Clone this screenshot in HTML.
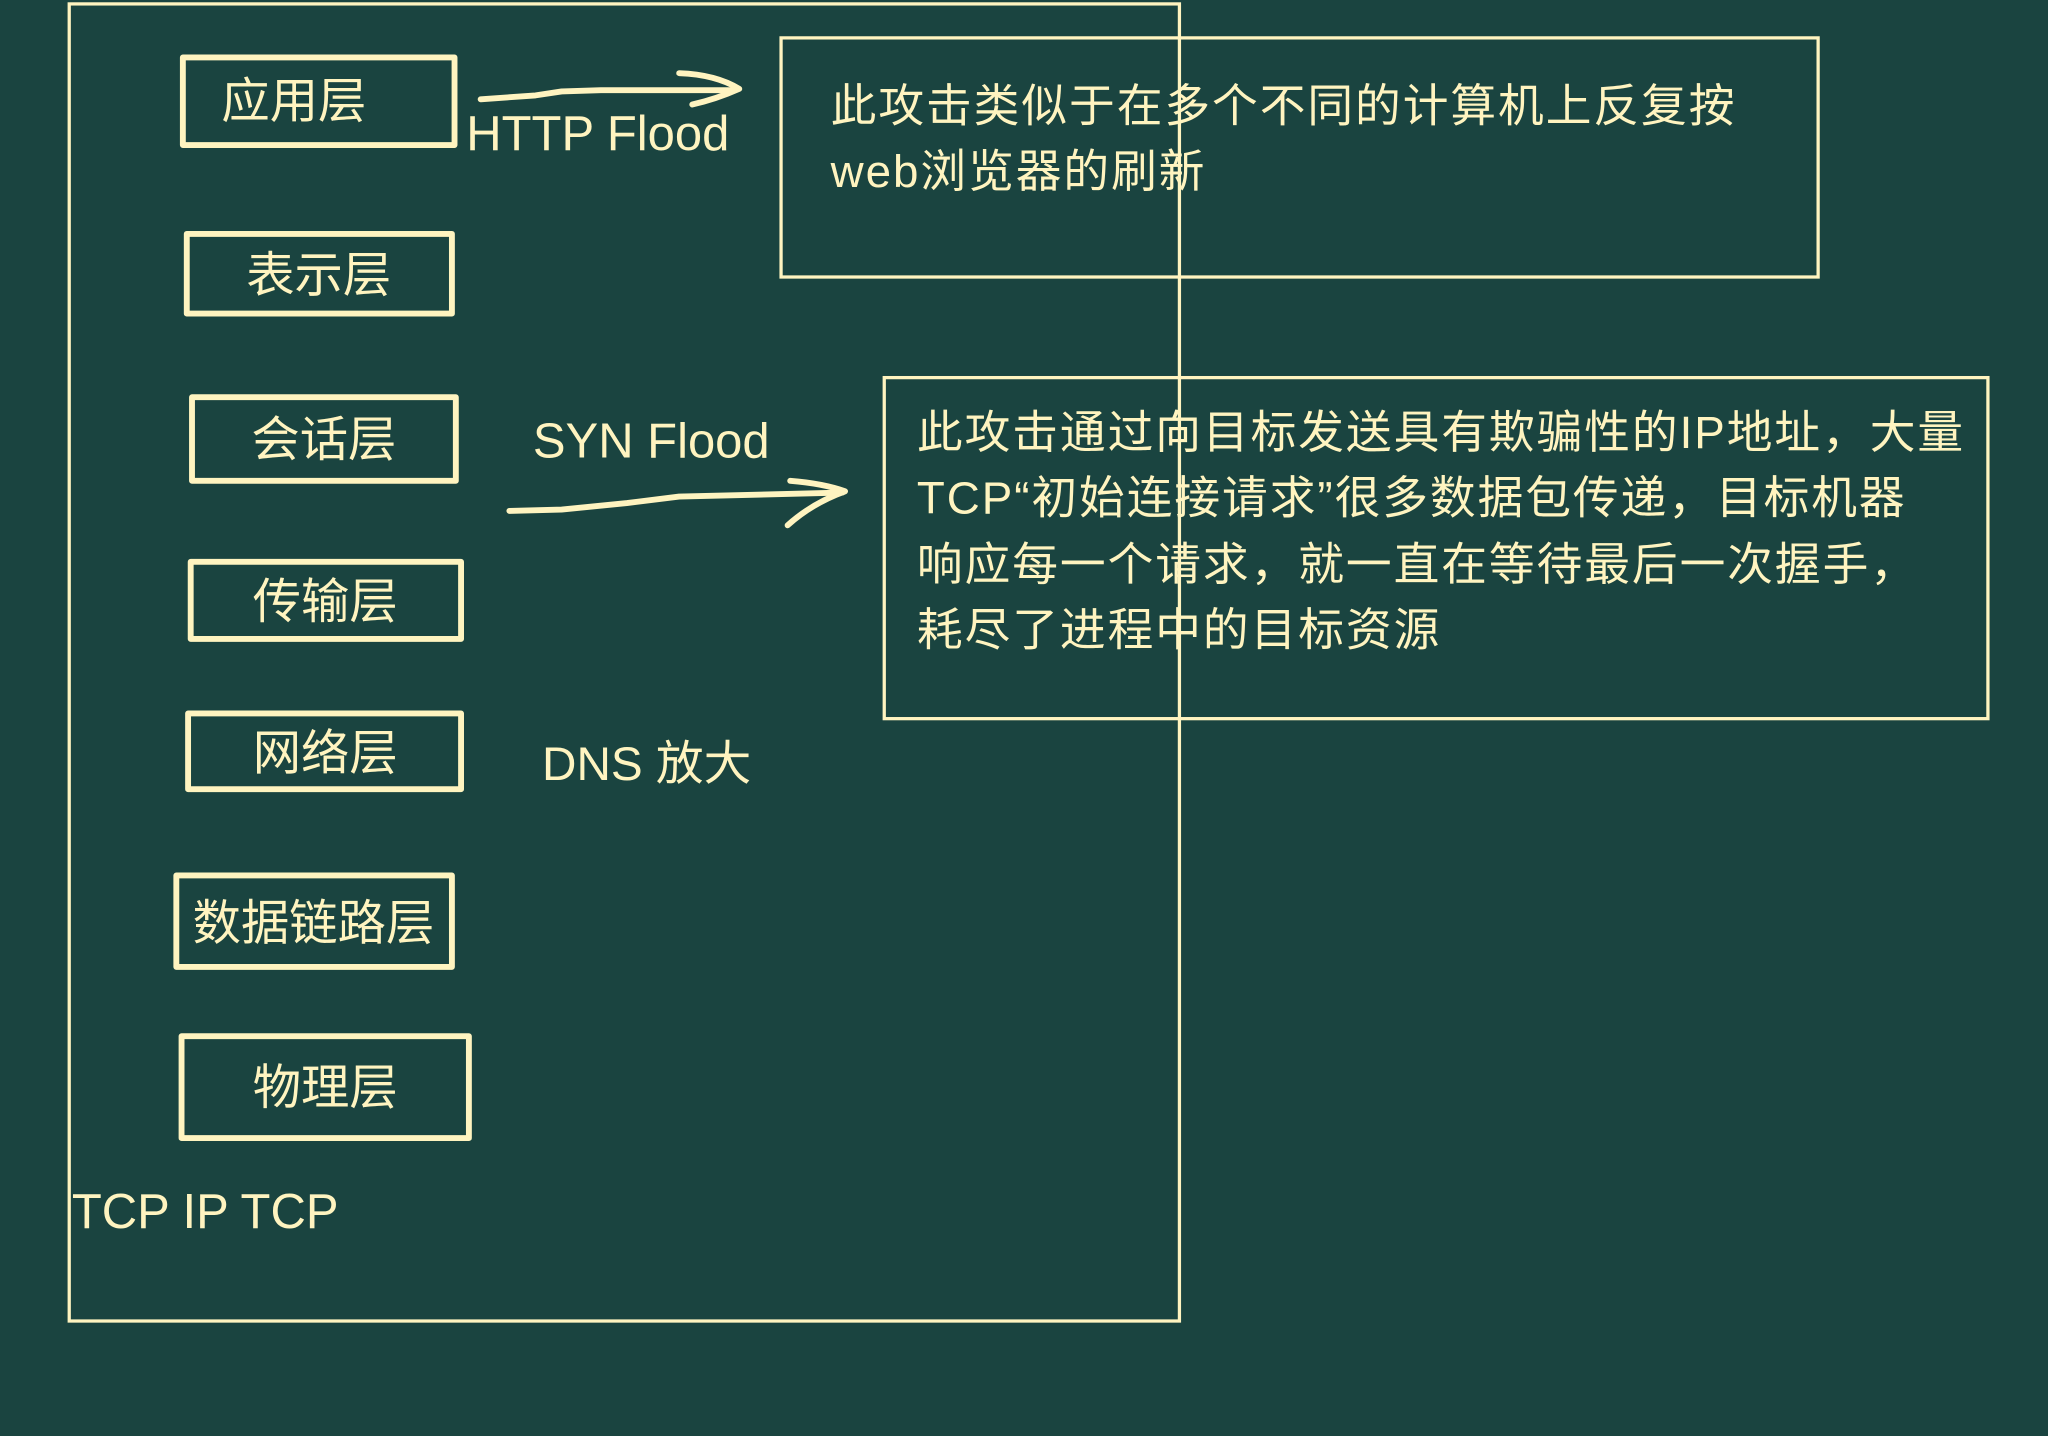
<!DOCTYPE html>
<html><head><meta charset="utf-8"><style>
html,body{margin:0;padding:0;background:#1a4440;}
svg{display:block;}
text{font-family:"Liberation Sans","Noto Sans CJK SC",sans-serif;fill:#fff4c0;}
</style></head><body>
<svg width="2048" height="1436" viewBox="0 0 1568 1099" preserveAspectRatio="none" xmlns="http://www.w3.org/2000/svg">
<rect width="1568" height="1099" fill="#1a4440"/>
<g fill="none" stroke="#fff4c0">
<rect x="53" y="3" width="850" height="1008" stroke-width="2.5"/>
<g stroke-width="4.5" stroke-linejoin="round">
<rect x="140" y="44" width="208" height="67"/>
<rect x="143" y="179" width="203" height="61"/>
<rect x="147" y="304" width="202" height="64"/>
<rect x="146" y="430" width="207" height="59"/>
<rect x="144" y="546" width="209" height="58"/>
<rect x="135" y="670" width="211" height="70"/>
<rect x="139" y="793" width="220" height="78"/>
</g>
<rect x="598" y="29" width="794" height="183" stroke-width="2.5"/>
<rect x="677" y="289" width="845" height="261" stroke-width="2.5"/>
<g stroke-width="4.5" stroke-linecap="round" stroke-linejoin="round">
<path d="M368 76 L410 73 L430 70 L460 69 L560 69"/>
<path d="M520 56 Q548 57 566 68 Q548 76 530 80"/>
<path d="M390 391 L430 390 L480 385 L520 380 L645 377"/>
<path d="M605 368 Q630 370 647 376 Q622 385 603 402"/>
</g>
</g>
<g font-size="37" text-anchor="middle">
<text x="225" y="90">应用层</text>
<text x="244" y="223">表示层</text>
<text x="248" y="349">会话层</text>
<text x="249" y="473">传输层</text>
<text x="249" y="589">网络层</text>
<text x="240" y="719">数据链路层</text>
<text x="249" y="845">物理层</text>
</g>
<g font-size="37.5">
<text x="55" y="940">TCP IP TCP</text>
<text x="357" y="115">HTTP Flood</text>
<text x="408" y="350">SYN Flood</text>
<text x="415" y="597" font-size="36.5">DNS 放大</text>
</g>
<g font-size="35" letter-spacing="1.5">
<text x="636" y="93">此攻击类似于在多个不同的计算机上反复按</text>
<text x="636" y="143">web浏览器的刷新</text>
<text x="702" y="343">此攻击通过向目标发送具有欺骗性的IP地址，大量</text>
<text x="702" y="393">TCP“初始连接请求”很多数据包传递，目标机器</text>
<text x="702" y="444">响应每一个请求，就一直在等待最后一次握手，</text>
<text x="702" y="494">耗尽了进程中的目标资源</text>
</g>
</svg>
</body></html>
